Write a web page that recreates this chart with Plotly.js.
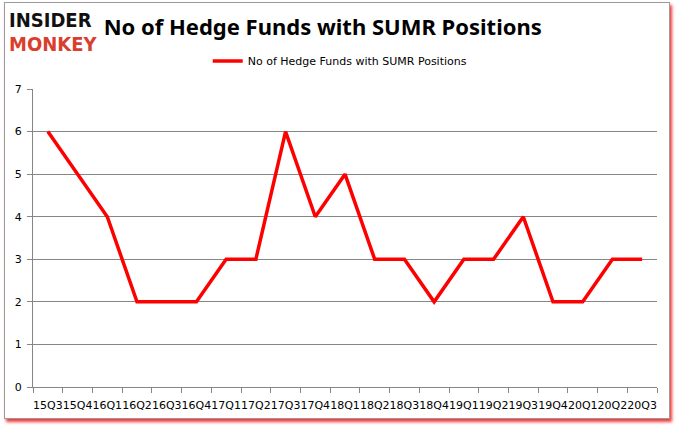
<!DOCTYPE html>
<html><head><meta charset="utf-8">
<script src="https://cdn.plot.ly/plotly-3.0.1.min.js"></script>
<style>
html,body{margin:0;padding:0;background:#fff;}
#frame{position:absolute;left:4px;top:2px;width:664px;height:415px;border:1px solid #9a9a9a;box-shadow:2px 3px 3px #f03a3a;}
#chart{position:absolute;left:0;top:0;width:678px;height:431px;}
</style>
</head><body>
<div id="frame"></div>
<div id="chart"></div>
<script>
const quarters = ["15Q3","15Q4","16Q1","16Q2","16Q3","16Q4","17Q1","17Q2","17Q3","17Q4","18Q1","18Q2","18Q3","18Q4","19Q1","19Q2","19Q3","19Q4","20Q1","20Q2","20Q3"];
const funds = [6,5,4,2,2,2,3,3,6,4,5,3,3,2,3,3,4,2,2,3,3];
const seriesName = "No of Hedge Funds with SUMR Positions";
const yTicks = [0,1,2,3,4,5,6,7];

const trace = {
  x: quarters, y: funds, type: "scatter", mode: "lines", name: seriesName,
  line: {color: "#ff0000", width: 3.5}
};
const layout = {
  width: 678, height: 431,
  margin: {l: 33, r: 21, t: 89, b: 44},
  paper_bgcolor: "rgba(0,0,0,0)", plot_bgcolor: "#ffffff",
  showlegend: true,
  legend: {orientation: "h", x: 0.28, y: 1.094, xanchor: "left", yanchor: "middle",
           font: {family: "DejaVu Sans", size: 11, color: "#000"}, bgcolor: "rgba(0,0,0,0)", itemwidth: 30},
  title: {text: "No of Hedge Funds with SUMR Positions", x: 0.476, xanchor: "center", y: 0.937, yanchor: "middle",
          font: {family: "Noto Sans", size: 22, color: "#000", weight: "bold"}},
  xaxis: {type: "category", range: [-0.5, 20.5], tickson: "boundaries", ticks: "outside", ticklen: 5, tickcolor: "#868686",
          showline: true, linecolor: "#868686", linewidth: 1, showgrid: false, tickangle: 0, ticklabelstandoff: 8,
          tickfont: {family: "DejaVu Sans", size: 11, color: "#000"}, fixedrange: true},
  yaxis: {range: [0, 7], tickvals: yTicks, ticks: "outside", ticklen: 5, tickcolor: "#868686",
          showline: true, linecolor: "#868686", linewidth: 1, showgrid: true, gridcolor: "#868686", gridwidth: 1,
          zeroline: false, tickfont: {family: "DejaVu Sans", size: 11, color: "#000"}, ticklabelstandoff: 3},
  annotations: [
    {text: "INSIDER", xref: "paper", yref: "paper", x: -0.041, y: 1.232, xanchor: "left", yanchor: "middle", showarrow: false,
     font: {family: "DejaVu Sans Condensed", size: 20, color: "#111", weight: "bold"}},
    {text: "MONKEY", xref: "paper", yref: "paper", x: -0.041, y: 1.150, xanchor: "left", yanchor: "middle", showarrow: false,
     font: {family: "DejaVu Sans Condensed", size: 20, color: "#d8402d", weight: "bold"}}
  ]
};
Plotly.newPlot("chart", [trace], layout, {displayModeBar: false, staticPlot: true});
</script>
</body></html>
